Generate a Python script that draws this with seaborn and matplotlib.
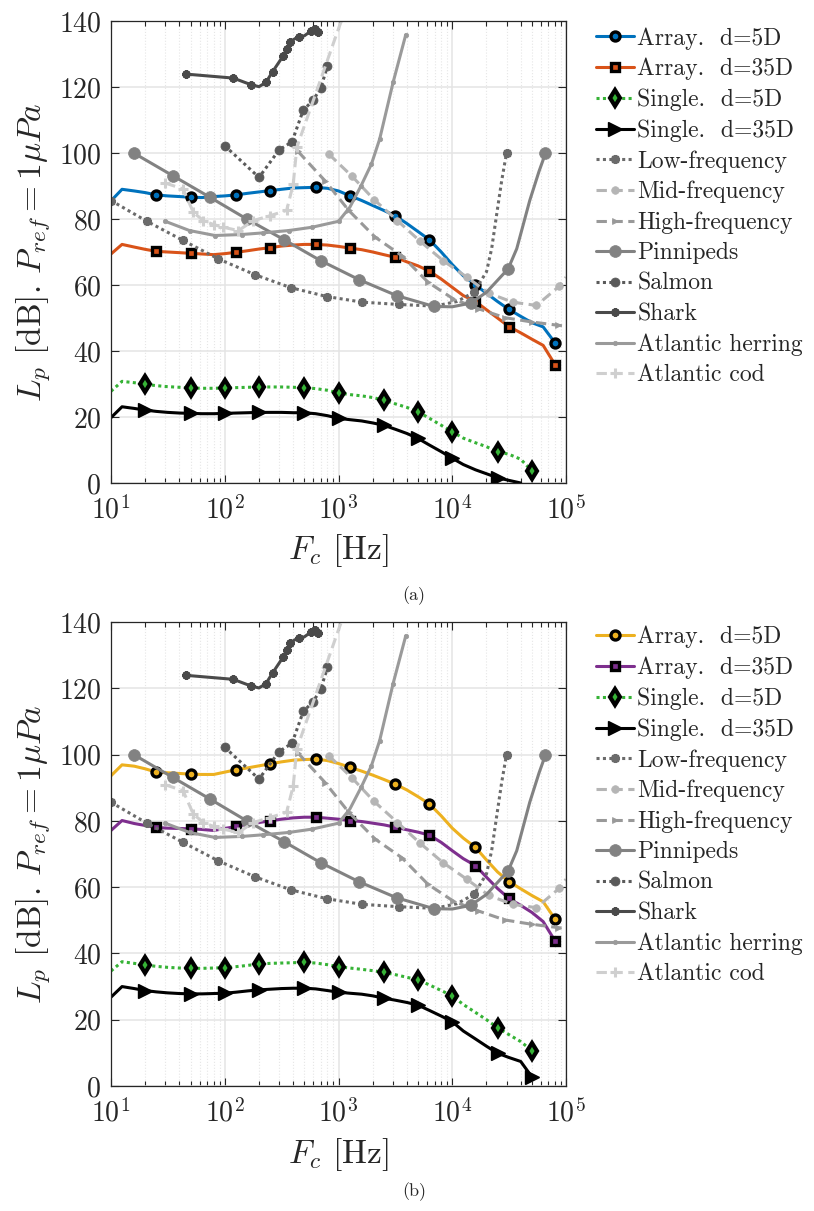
import numpy as np
import matplotlib
matplotlib.use("Agg")
import matplotlib.pyplot as plt
import seaborn as sns
from matplotlib.lines import Line2D
from matplotlib.ticker import LogLocator, NullFormatter, FixedLocator

# ---------------- data ----------------
# one-third octave band centre frequencies [Hz]
fc = [10, 12.5, 16, 20, 25, 31.5, 40, 50, 63, 80, 100, 125, 160, 200, 250, 315, 400, 500, 630, 800,
      1000, 1250, 1600, 2000, 2500, 3150, 4000, 5000, 6300, 8000, 10000, 12500, 16000, 20000, 25000,
      31500, 40000, 50000, 63000, 80000]

# panel (a)
array5_a = [85.5, 89.0, 88.5, 88.0, 87.3, 87.0, 86.8, 86.6, 86.5, 86.8, 87.0, 87.3, 87.8, 88.2, 88.6,
            89.0, 89.4, 89.5, 89.6, 89.3, 88.5, 87.1, 85.6, 84.1, 82.6, 81.0, 78.6, 76.2, 73.7, 70.0,
            66.2, 62.8, 60.0, 57.5, 55.0, 52.6, 50.5, 48.6, 47.3, 42.5]
array35_a = [69.4, 72.3, 71.5, 70.8, 70.2, 70.0, 69.8, 69.6, 69.4, 69.2, 69.5, 69.9, 70.4, 70.9, 71.3,
             71.8, 72.1, 72.3, 72.3, 72.1, 71.7, 71.2, 70.7, 70.0, 69.2, 68.4, 67.0, 65.8, 64.2, 61.8,
             59.3, 56.8, 55.0, 52.5, 50.0, 47.4, 45.5, 43.6, 41.7, 35.9]
single5_a = [27.8, 30.8, 30.4, 29.9, 29.5, 29.2, 29.0, 28.8, 28.7, 28.7, 28.8, 28.9, 29.0, 29.1, 29.1,
             29.1, 29.0, 28.9, 28.6, 28.1, 27.3, 26.8, 26.4, 25.9, 25.1, 24.0, 22.9, 21.6, 19.6, 17.5,
             15.5, 13.6, 12.2, 11.0, 9.5, 8.7, 7.2, 3.7]
single35_a = [19.8, 23.1, 22.6, 22.1, 21.7, 21.4, 21.2, 21.1, 21.0, 21.0, 21.1, 21.2, 21.3, 21.4, 21.4,
              21.4, 21.3, 21.3, 21.0, 20.4, 19.6, 19.2, 18.8, 18.2, 17.5, 16.3, 15.0, 13.5, 11.5, 9.5,
              7.5, 5.6, 4.0, 2.8, 1.6, 0.8, 0.0]

# panel (b)
array5_b = [93.6, 96.9, 96.5, 95.7, 94.7, 94.5, 94.3, 94.1, 94.0, 94.0, 94.7, 95.4, 96.0, 96.6, 97.2,
            97.8, 98.3, 98.5, 98.6, 98.2, 97.3, 96.2, 95.0, 93.8, 92.5, 91.1, 89.3, 87.3, 85.1, 81.5,
            77.8, 74.8, 72.0, 68.2, 64.6, 61.7, 59.5, 57.5, 55.6, 50.4]
array35_b = [77.1, 80.1, 79.2, 78.6, 78.0, 77.8, 77.7, 77.6, 77.4, 77.1, 77.7, 78.3, 79.0, 79.5, 80.0,
             80.5, 80.9, 81.1, 81.1, 80.8, 80.5, 80.1, 79.8, 79.3, 78.8, 78.1, 77.3, 76.6, 75.7, 73.5,
             71.0, 68.6, 66.5, 63.0, 59.6, 56.6, 54.5, 52.4, 49.6, 43.8]
single5_b = [34.7, 37.5, 37.0, 36.5, 36.1, 35.8, 35.6, 35.5, 35.5, 35.6, 35.7, 36.0, 36.4, 36.8, 37.0,
             37.1, 37.2, 37.3, 37.1, 36.6, 36.0, 35.6, 35.2, 34.8, 34.3, 33.6, 32.8, 32.0, 30.5, 28.8,
             27.2, 24.6, 22.2, 20.0, 17.6, 15.5, 13.4, 10.7]
single35_b = [26.8, 30.0, 29.4, 28.8, 28.4, 28.1, 27.9, 27.8, 27.8, 27.9, 28.0, 28.3, 28.7, 29.0, 29.2,
              29.4, 29.5, 29.5, 29.3, 28.8, 28.3, 28.0, 27.7, 27.2, 26.5, 25.9, 25.2, 24.4, 22.8, 21.1,
              19.4, 16.6, 14.2, 12.0, 9.9, 8.6, 7.4, 2.8]

# hearing thresholds (same in both panels)
lf_f = [10, 20.7, 43, 88, 185, 380, 790, 1620, 3400, 7000, 11000, 15500, 20000, 22200, 24600, 27200, 30000]
lf_v = [85.6, 79.3, 73.5, 67.9, 63.1, 59.2, 56.5, 54.8, 54.1, 53.6, 55.0, 57.8, 64.0, 71.0, 81.5, 91.6, 100.0]
mf_f = [820, 1320, 2050, 3300, 5200, 8300, 13400, 21000, 34000, 55000, 87000, 100000]
mf_v = [99.7, 92.9, 85.9, 79.5, 73.3, 67.4, 62.4, 57.5, 54.8, 53.8, 59.6, 62.4]
hf_f = [440, 765, 1230, 2100, 3600, 6100, 10200, 17000, 29000, 50000, 85000, 100000]
hf_v = [100.5, 91.5, 82.6, 74.5, 68.9, 60.9, 55.8, 52.8, 50.1, 48.8, 47.8, 47.5]
pin_f = [16, 35, 74, 156, 333, 695, 1520, 3240, 6900, 10000, 14500, 20000, 31000, 36900, 48000, 58000, 66000]
pin_v = [99.9, 93.1, 86.6, 80.0, 73.7, 67.4, 61.6, 56.8, 53.5, 53.4, 54.5, 57.8, 64.9, 71.0, 85.6, 94.5, 99.9]
sal_f = [100, 200, 300, 390, 490, 600, 700, 800]
sal_v = [102.2, 92.6, 100.9, 103.4, 113.0, 116.0, 119.8, 126.4]
shark_f = [46, 119, 170, 200, 230, 263, 326, 350, 375, 445, 500, 575, 620, 665]
shark_v = [123.9, 122.7, 120.7, 120.1, 121.4, 124.6, 129.4, 131.6, 133.7, 135.3, 135.5, 137.0, 137.5, 136.8]
her_f = [30, 49, 82, 141, 218, 365, 585, 1000, 1260, 1580, 1950, 2300, 3020, 3900]
her_v = [79.3, 76.5, 75.0, 75.3, 75.8, 76.5, 77.5, 79.3, 83.6, 90.1, 96.7, 104.2, 121.4, 135.8]
cod_f = [30, 43, 53, 65, 80, 97, 132, 178, 250, 350, 400, 430, 1020, 1150]
cod_v = [90.9, 89.1, 82.0, 79.5, 78.3, 77.5, 76.5, 79.5, 81.0, 82.6, 90.6, 101.7, 138.5, 143.0]

labels_main = ["Array.  d=5D", "Array.  d=35D", "Single.  d=5D", "Single.  d=35D"]
labels_ref = ["Low-frequency", "Mid-frequency", "High-frequency", "Pinnipeds", "Salmon", "Shark",
              "Atlantic herring", "Atlantic cod"]

# ---------------- style ----------------
sns.set_style("ticks")
plt.rcParams.update({
    "font.family": ["cmr10"],
    "mathtext.fontset": "cm",
    "axes.unicode_minus": False,
    "axes.formatter.use_mathtext": True,
    "figure.dpi": 100,
})

BLUE, ORANGE = "#0072BD", "#D95319"
YELLOW, PURPLE = "#EDB120", "#7E2F8E"
GREEN = "#36B336"
LW = 2.2
DOT = (0, (1.0, 1.1))
DASH = (0, (3.4, 1.8))

mk_array = [4, 7, 11, 14, 18, 21, 25, 28, 32, 35, 39]
mk_single = [3, 7, 10, 13, 17, 20, 24, 27, 30, 34, 37]

def main_styles(c5, c35):
    return [
        dict(color=c5, linestyle="-", marker="o", ms=6.5, mfc=c5, mec="k", mew=2.4),
        dict(color=c35, linestyle="-", marker="s", ms=6.0, mfc=c35, mec="k", mew=2.4),
        dict(color=GREEN, linestyle=DOT, marker="d", ms=8.5, mfc=GREEN, mec="k", mew=3.0),
        dict(color="k", linestyle="-", marker=">", ms=9.5, mfc="k", mec="k", mew=1.0),
    ]

ref_data = [(lf_f, lf_v), (mf_f, mf_v), (hf_f, hf_v), (pin_f, pin_v), (sal_f, sal_v),
            (shark_f, shark_v), (her_f, her_v), (cod_f, cod_v)]
ref_styles = [
    dict(color="#6b6b6b", linestyle=DOT, marker=(8, 2, 0), ms=6.5, mfc="#6b6b6b", mec="#6b6b6b", mew=1.8),
    dict(color="#b5b5b5", linestyle=DASH, marker="o", ms=5.5, mfc="#b5b5b5", mec="#b5b5b5", mew=0.5),
    dict(color="#999999", linestyle=DASH, marker=">", ms=5.0, mfc="#999999", mec="#999999", mew=0.5),
    dict(color="#828282", linestyle="-", marker="o", ms=8.5, mfc="#828282", mec="#828282", mew=0.5),
    dict(color="#5a5a5a", linestyle=DOT, marker="o", ms=6.5, mfc="#5a5a5a", mec="#5a5a5a", mew=0.5),
    dict(color="#4a4a4a", linestyle="-", marker=(8, 2, 0), ms=6.0, mfc="#4a4a4a", mec="#4a4a4a", mew=1.8),
    dict(color="#9a9a9a", linestyle="-", marker="o", ms=3.2, mfc="#9a9a9a", mec="#9a9a9a", mew=0.5),
    dict(color="#cfcfcf", linestyle=DASH, marker="+", ms=7.0, mfc="#cfcfcf", mec="#cfcfcf", mew=2.2),
]
ref_marks = [
    [0, 1, 2, 3, 4, 5, 6, 7, 8, 9, 11, 16],
    list(range(11)),
    list(range(11)),
    [0, 1, 2, 3, 4, 5, 6, 7, 8, 10, 12, 16],
    list(range(8)),
    [0, 1, 2, 4, 5, 6, 7, 8, 9, 11, 12, 13],
    [0, 1, 2, 3, 4, 5, 6, 7, 9, 10, 11, 12, 13],
    list(range(12)),
]

W, H = 814, 1211
fig = plt.figure(figsize=(W / 100, H / 100), dpi=100)
ax_a = fig.add_axes([111 / W, 1 - 483 / H, 455 / W, 462 / H])
ax_b = fig.add_axes([111 / W, 1 - 1086 / H, 455 / W, 464 / H])

panels = [
    (ax_a, [array5_a, array35_a, single5_a, single35_a], main_styles(BLUE, ORANGE),
     [mk_array, mk_array, mk_single, mk_single[:-1]], 27),
    (ax_b, [array5_b, array35_b, single5_b, single35_b], main_styles(YELLOW, PURPLE),
     [mk_array, mk_array, mk_single, mk_single], 626),
]

for ax, series, styles, marks, leg_top in panels:
    handles = []
    for vals, st, mk, lab in zip(series, styles, marks, labels_main):
        sns.lineplot(x=fc[:len(vals)], y=vals, ax=ax, lw=LW, markevery=mk, errorbar=None,
                     estimator=None, sort=False, legend=False, **st)
        handles.append(Line2D([], [], lw=LW, **st))
    for (f, v), st, mk in zip(ref_data, ref_styles, ref_marks):
        sns.lineplot(x=f, y=v, ax=ax, lw=LW, markevery=mk, errorbar=None,
                     estimator=None, sort=False, legend=False, **st)
        handles.append(Line2D([], [], lw=LW, **st))

    ax.set_xscale("log")
    ax.set_xlim(10, 1e5)
    ax.set_ylim(0, 140)
    ax.yaxis.set_major_locator(FixedLocator(np.arange(0, 141, 20)))
    ax.xaxis.set_major_locator(LogLocator(base=10, numticks=10))
    ax.xaxis.set_minor_locator(LogLocator(base=10, subs=np.arange(2, 10), numticks=100))
    ax.xaxis.set_minor_formatter(NullFormatter())
    ax.tick_params(which="both", direction="in", top=True, right=True, labelsize=20, width=0.8,
                   color="#262626")
    ax.tick_params(which="major", length=6)
    ax.tick_params(axis="y", which="major", pad=7)
    ax.tick_params(axis="x", which="major", pad=9)
    ax.tick_params(which="minor", length=3.5)
    ax.grid(which="major", color="#e4e4e4", lw=1.1, ls="-")
    ax.grid(which="minor", axis="x", color="#e6e6e6", lw=0.8, ls=":")
    ax.set_axisbelow(True)
    for sp in ax.spines.values():
        sp.set_color("#262626")
        sp.set_linewidth(0.9)
    ax.set_xlabel(r"$F_c$ [Hz]", fontsize=24, va="center")
    ax.xaxis.set_label_coords(0.5, -0.147)
    ax.set_ylabel(r"$L_p$ [dB]. $P_{ref} = 1\mu Pa$", fontsize=24, va="center")
    ax.yaxis.set_label_coords(-0.172, 0.5)

    labels = labels_main + labels_ref
    fig.legend(handles, labels, loc="upper left", bbox_to_anchor=(596 / W, 1 - leg_top / H),
               frameon=False, fontsize=17, handlelength=1.6, handletextpad=0.15,
               labelspacing=0.35, borderpad=0, borderaxespad=0)

fig.text(414 / W, 1 - 596 / H, "(a)", ha="center", va="center", fontsize=13)
fig.text(414 / W, 1 - 1192 / H, "(b)", ha="center", va="center", fontsize=13)

fig.savefig("out.png", dpi=100)
